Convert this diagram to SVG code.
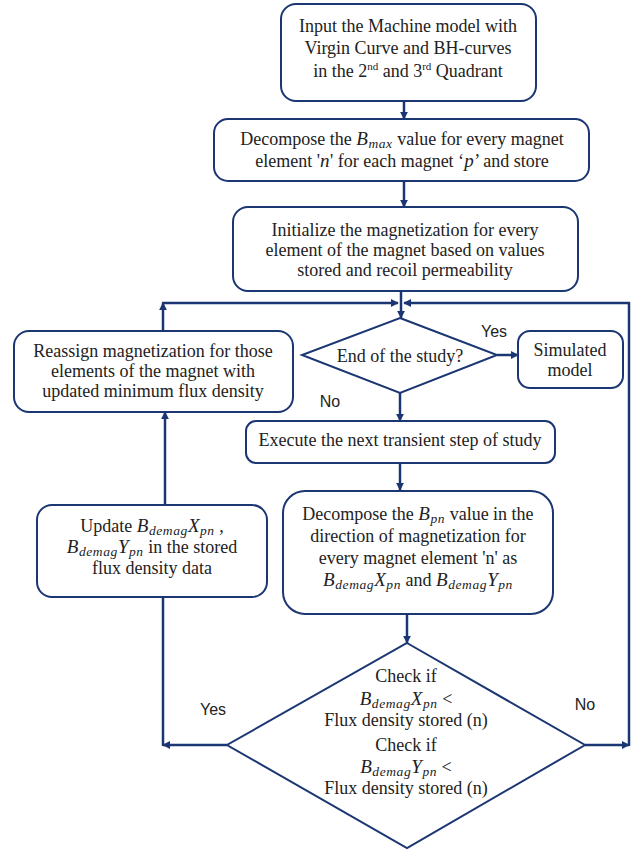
<svg xmlns="http://www.w3.org/2000/svg" width="642" height="850" viewBox="0 0 642 850">
<defs>
<marker id="ah" viewBox="0 0 10 10" refX="9" refY="5" markerWidth="8" markerHeight="8" markerUnits="userSpaceOnUse" orient="auto">
<path d="M0,0 L10,5 L0,10 Z" fill="#1b3672"/>
</marker>
</defs>
<style>
.box{fill:#fff;stroke:#1b3672;stroke-width:2}
.t{font-family:"Liberation Serif","Times New Roman",serif;font-size:18px;fill:#222;text-anchor:middle}
.lbl{font-family:"Liberation Sans",Arial,sans-serif;font-size:16px;fill:#222;text-anchor:middle}
.c{fill:none;stroke:#1b3672;stroke-width:2.5}
.ca{fill:none;stroke:#1b3672;stroke-width:2.5;marker-end:url(#ah)}
.i{font-style:italic;font-size:19px;letter-spacing:0.5px}
.s{font-style:italic;font-size:13.5px;letter-spacing:0.6px}
</style>
<rect width="642" height="850" fill="#fff"/>
<g id="connectors">
<line class="ca" x1="404" y1="101" x2="404" y2="119"/>
<line class="ca" x1="404" y1="181" x2="404" y2="207"/>
<line class="ca" x1="401" y1="291" x2="401" y2="318"/>
<line class="ca" x1="163" y1="331" x2="163" y2="303"/>
<line class="ca" x1="162" y1="303" x2="398" y2="303"/>
<line class="ca" x1="585" y1="745" x2="629" y2="745"/>
<line class="c" x1="629" y1="746" x2="629" y2="302"/>
<line class="ca" x1="630" y1="303" x2="404" y2="303"/>
<line class="ca" x1="497" y1="355" x2="518" y2="355"/>
<line class="ca" x1="400" y1="393" x2="400" y2="421"/>
<line class="ca" x1="400" y1="463" x2="400" y2="490"/>
<line class="ca" x1="407" y1="614" x2="407" y2="643"/>
<line class="ca" x1="227" y1="745" x2="163" y2="745"/>
<line class="c" x1="163" y1="746" x2="163" y2="597"/>
<line class="ca" x1="165" y1="505" x2="165" y2="412"/>
</g>
<g id="n1">
<rect class="box" x="281" y="4" width="255" height="97" rx="15"/>
<text class="t" x="408" y="32">Input the Machine model with</text>
<text class="t" x="408" y="54">Virgin Curve and BH-curves</text>
<text class="t" x="408" y="77">in the 2<tspan font-size="11" dy="-7">nd</tspan><tspan dy="7"> and 3</tspan><tspan font-size="11" dy="-7">rd</tspan><tspan dy="7"> Quadrant</tspan></text>
</g>
<g id="n2">
<rect class="box" x="214" y="119" width="375" height="62" rx="14"/>
<text class="t" x="402" y="145">Decompose the <tspan class="i">B</tspan><tspan class="s" dy="3">max</tspan><tspan dy="-3"> value for every magnet</tspan></text>
<text class="t" x="402" y="167">element '<tspan class="i">n</tspan>' for each magnet ‘<tspan class="i">p</tspan>’ and store</text>
</g>
<g id="n3">
<rect class="box" x="233" y="207" width="345" height="84" rx="15"/>
<text class="t" x="405" y="236">Initialize the magnetization for every</text>
<text class="t" x="405" y="256">element of the magnet based on values</text>
<text class="t" x="405" y="276">stored and recoil permeability</text>
</g>
<g id="n4">
<rect class="box" x="14" y="331" width="279" height="81" rx="15"/>
<text class="t" x="153" y="357">Reassign magnetization for those</text>
<text class="t" x="153" y="377">elements of the magnet with</text>
<text class="t" x="153" y="397">updated minimum flux density</text>
</g>
<g id="n5">
<polygon class="box" points="400,318 497,355 400,393 302,355"/>
<text class="t" x="400" y="362">End of the study?</text>
</g>
<g id="n6">
<rect class="box" x="518" y="331" width="105" height="57" rx="12"/>
<text class="t" x="570" y="356">Simulated</text>
<text class="t" x="570" y="376">model</text>
</g>
<g id="n7">
<rect class="box" x="246" y="421" width="309" height="42" rx="10"/>
<text class="t" x="400" y="446">Execute the next transient step of study</text>
</g>
<g id="n8">
<rect class="box" x="283" y="491" width="270" height="123" rx="22"/>
<text class="t" x="418" y="520">Decompose the <tspan class="i">B</tspan><tspan class="s" dy="3">pn</tspan><tspan dy="-3"> value in the</tspan></text>
<text class="t" x="418" y="542">direction of magnetization for</text>
<text class="t" x="418" y="564">every magnet element 'n' as</text>
<text class="t" x="418" y="586"><tspan class="i">B</tspan><tspan class="s" dy="3">demag</tspan><tspan class="i" dy="-3">X</tspan><tspan class="s" dy="3">pn</tspan><tspan dy="-3"> and </tspan><tspan class="i">B</tspan><tspan class="s" dy="3">demag</tspan><tspan class="i" dy="-3">Y</tspan><tspan class="s" dy="3">pn</tspan></text>
</g>
<g id="n9">
<rect class="box" x="37" y="505" width="230" height="92" rx="15"/>
<text class="t" x="152" y="532">Update <tspan class="i">B</tspan><tspan class="s" dy="3">demag</tspan><tspan class="i" dy="-3">X</tspan><tspan class="s" dy="3">pn</tspan><tspan dy="-3"> ,</tspan></text>
<text class="t" x="152" y="553"><tspan class="i">B</tspan><tspan class="s" dy="3">demag</tspan><tspan class="i" dy="-3">Y</tspan><tspan class="s" dy="3">pn</tspan><tspan dy="-3"> in the stored</tspan></text>
<text class="t" x="152" y="574">flux density data</text>
</g>
<g id="n10">
<polygon class="box" points="407,643 585,745 407,848 227,745"/>
<text class="t" x="406" y="682">Check if</text>
<text class="t" x="406" y="705"><tspan class="i">B</tspan><tspan class="s" dy="3">demag</tspan><tspan class="i" dy="-3">X</tspan><tspan class="s" dy="3">pn</tspan><tspan dy="-3"> &lt;</tspan></text>
<text class="t" x="406" y="726">Flux density stored (n)</text>
<text class="t" x="406" y="751">Check if</text>
<text class="t" x="406" y="773"><tspan class="i">B</tspan><tspan class="s" dy="3">demag</tspan><tspan class="i" dy="-3">Y</tspan><tspan class="s" dy="3">pn</tspan><tspan dy="-3"> &lt;</tspan></text>
<text class="t" x="406" y="794">Flux density stored (n)</text>
</g>
<g id="labels">
<text class="lbl" x="494" y="337">Yes</text>
<text class="lbl" x="330" y="407">No</text>
<text class="lbl" x="213" y="715">Yes</text>
<text class="lbl" x="585" y="710">No</text>
</g>
</svg>
